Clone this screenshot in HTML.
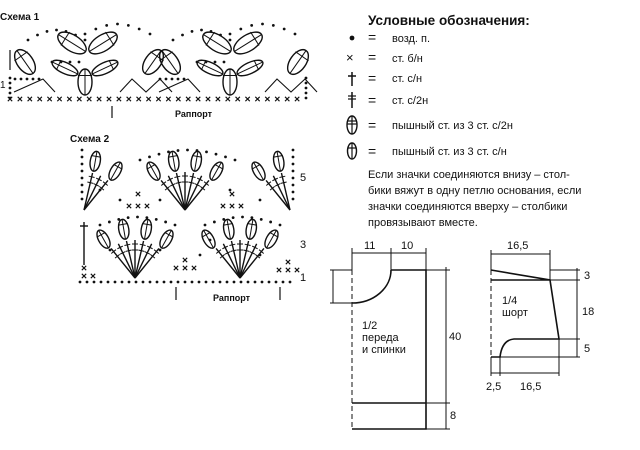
<!DOCTYPE html><html><head><meta charset="utf-8"><style>
body{margin:0;background:#fff;width:640px;height:450px;overflow:hidden}
svg{display:block}
text{font-family:"Liberation Sans",sans-serif;fill:#111}
</style></head><body>
<svg id="s" width="640" height="450" viewBox="0 0 640 450" stroke="#111" fill="none" stroke-width="1.2">
<text x="0" y="20" font-size="10" font-weight="bold" stroke="none">Схема 1</text>
<text x="70" y="142" font-size="10" font-weight="bold" stroke="none">Схема 2</text>
<text x="175" y="117" font-size="9" font-weight="bold" stroke="none">Раппорт</text>
<text x="213" y="301" font-size="9" font-weight="bold" stroke="none">Раппорт</text>
<line x1="112" y1="106" x2="112" y2="118"/><line x1="176" y1="287" x2="176" y2="300"/><line x1="280" y1="287" x2="280" y2="300"/>
<text x="300" y="181" font-size="11" stroke="none">5</text>
<text x="300" y="248" font-size="11" stroke="none">3</text>
<text x="300" y="281" font-size="11" stroke="none">1</text>
<text x="0" y="88" font-size="10" stroke="none">1</text>
<line x1="10" y1="50" x2="10" y2="70"/>
<!-- legend -->
<text x="368" y="25" font-size="13.5" font-weight="bold" stroke="none">Условные обозначения:</text>
<g font-size="11" stroke="none">
<circle cx="352" cy="38" r="2.4" fill="#111"/><text x="368" y="42" font-size="14">=</text><text x="392" y="42">возд. п.</text>
<text x="346" y="62" font-size="13">×</text><text x="368" y="62" font-size="14">=</text><text x="392" y="62">ст. б/н</text>
<text x="368" y="83" font-size="14">=</text><text x="392" y="82">ст. с/н</text>
<text x="368" y="105" font-size="14">=</text><text x="392" y="104">ст. с/2н</text>
<text x="368" y="130" font-size="14">=</text><text x="392" y="129">пышный ст. из 3 ст. с/2н</text>
<text x="368" y="156" font-size="14">=</text><text x="392" y="155">пышный ст. из 3 ст. с/н</text>
<text x="368" y="178">Если значки соединяются внизу – стол-</text>
<text x="368" y="194">бики вяжут в одну петлю основания, если</text>
<text x="368" y="210">значки соединяются вверху – столбики</text>
<text x="368" y="226">провязывают вместе.</text>
</g>
<line x1="352" y1="72" x2="352" y2="86" stroke-width="1.5"/><line x1="348" y1="76" x2="356" y2="76" stroke-width="1.5"/>
<line x1="352" y1="92" x2="352" y2="108" stroke-width="1.5"/><line x1="348" y1="96" x2="356" y2="96"/><line x1="348" y1="99" x2="356" y2="99"/>
<ellipse cx="352" cy="125" rx="5" ry="9" stroke-width="1.4"/><line x1="352" y1="116" x2="352" y2="134"/><line x1="347" y1="121" x2="357" y2="121"/><line x1="347" y1="124" x2="357" y2="124"/>
<ellipse cx="352" cy="151" rx="4.5" ry="8" stroke-width="1.4"/><line x1="352" y1="143" x2="352" y2="159"/><line x1="348" y1="148" x2="356" y2="148"/>
<!-- pattern 1/2 -->
<g stroke-width="1">
<line x1="352" y1="270" x2="352" y2="429" stroke-dasharray="5,3"/>
<path d="M391 270 H426 V429 H352 M352 403 H426 M352 303 A39 33 0 0 0 391 270" stroke-width="1.6"/>
<line x1="352" y1="253" x2="426" y2="253"/><line x1="352" y1="248" x2="352" y2="270"/><line x1="391" y1="248" x2="391" y2="270"/><line x1="426" y1="248" x2="426" y2="270"/>
<line x1="333" y1="270" x2="333" y2="303"/><line x1="330" y1="270" x2="352" y2="270"/><line x1="330" y1="303" x2="352" y2="303"/>
<line x1="446" y1="267" x2="446" y2="429"/><line x1="426" y1="270" x2="450" y2="270"/><line x1="426" y1="403" x2="450" y2="403"/><line x1="426" y1="429" x2="450" y2="429"/>
<line x1="491" y1="270" x2="491" y2="357" stroke-dasharray="5,3"/>
<path d="M491 270 L550 280 L559 339 H514 Q502 340 500 357 H491 M491 280 H550" stroke-width="1.6"/>
<line x1="491" y1="254" x2="550" y2="254"/><line x1="491" y1="250" x2="491" y2="270"/><line x1="550" y1="250" x2="550" y2="280"/>
<line x1="577" y1="268" x2="577" y2="357"/><line x1="550" y1="270" x2="580" y2="270"/><line x1="550" y1="280" x2="580" y2="280"/><line x1="559" y1="339" x2="580" y2="339"/><line x1="491" y1="357" x2="580" y2="357"/>
<line x1="491" y1="373" x2="559" y2="373"/><line x1="491" y1="357" x2="491" y2="376"/><line x1="500" y1="357" x2="500" y2="376"/><line x1="559" y1="339" x2="559" y2="376"/>
</g>
<g font-size="11" stroke="none">
<text x="364" y="249">11</text><text x="401" y="249">10</text>
<text x="449" y="340">40</text><text x="450" y="419">8</text>
<text x="362" y="329">1/2</text><text x="362" y="341">переда</text><text x="362" y="353">и  спинки</text>
<text x="507" y="249">16,5</text>
<text x="584" y="279">3</text><text x="582" y="315">18</text><text x="584" y="352">5</text>
<text x="486" y="390">2,5</text><text x="520" y="390">16,5</text>
<text x="502" y="304">1/4</text><text x="502" y="316">шорт</text>
</g>
<g id="c" stroke-width="1.4"></g>
</svg>
<script>
var g=document.getElementById('c'),NS='http://www.w3.org/2000/svg';
function el(t,a){var e=document.createElementNS(NS,t);for(var k in a)e.setAttribute(k,a[k]);g.appendChild(e);return e}
function dot(x,y){el('circle',{cx:x,cy:y,r:1.4,fill:'#111',stroke:'none'})}
function cross(x,y){el('path',{d:'M'+(x-2.2)+' '+(y-2.2)+'l4.4 4.4m0-4.4l-4.4 4.4','stroke-width':1.1})}
function ell(x,y,rx,ry,a){var tr='rotate('+a+' '+x+' '+y+')';el('ellipse',{cx:x,cy:y,rx:rx,ry:ry,transform:tr});el('line',{x1:x,y1:y-ry,x2:x,y2:y+ry,transform:tr,'stroke-width':1});el('line',{x1:x-rx,y1:y-ry*0.5,x2:x+rx,y2:y-ry*0.5,transform:tr,'stroke-width':1})}
function arc(x0,x1,y,h,n){for(var i=0;i<=n;i++){var t=i/n;dot(x0+(x1-x0)*t,y-h*Math.sin(Math.PI*t))}}
// scheme 1
for(var x=10;x<=306;x+=9.9)cross(x,99);
[[0,0],[145,0]].forEach(function(o){var d=o[0];
arc(28+d,85+d,40,10,6);arc(85+d,150+d,34,10,6);
ell(72+d,43,8,16,-58);ell(103+d,43,8,16,58);
ell(85+d,82,7,13,0);ell(65+d,68,5.5,14,-65);ell(105+d,68,5.5,14,65);
ell(25+d,62,8,14,-35);ell(153+d,62,8,14,35);
el('path',{d:'M'+(14+d)+' 92 L'+(43+d)+' 79 L'+(55+d)+' 92','stroke-width':1.1});
el('path',{d:'M'+(120+d)+' 92 L'+(132+d)+' 79 L'+(146+d)+' 92 L'+(160+d)+' 79 L'+(172+d)+' 92','stroke-width':1.1});
for(var i=0;i<5;i++)dot(15+d+i*6,79);for(var i=0;i<4;i++)dot(52+d+i*9,62);
});
for(var y=78;y<=98;y+=5){dot(10,y);dot(306,y)}
// scheme 2
function fan(cx,by,half){var n=7,L=38;for(var i=0;i<n;i++){if(half==='l'&&i<4)continue;if(half==='r'&&i>2)continue;var deg=-39+i*13,a=deg*Math.PI/180,ex=cx+Math.sin(a)*L,ey=by-Math.cos(a)*L;el('line',{x1:cx,y1:by,x2:ex,y2:ey});
var tr='rotate('+deg+' '+ex+' '+ey+')';el('line',{x1:ex-3,y1:ey+4,x2:ex+3,y2:ey+4,transform:tr,'stroke-width':1});el('line',{x1:ex-3,y1:ey+10,x2:ex+3,y2:ey+10,transform:tr,'stroke-width':1});
if(i%2===0){var mx=cx+Math.sin(a)*(L+12),my=by-Math.cos(a)*(L+12);ell(mx,my,5,10,deg*0.75)}}}
fan(185,210);fan(135,278);fan(240,278);fan(84,210,'l');fan(290,210,'r');
for(var x=80;x<=296;x+=7)dot(x,282);
arc(140,235,160,10,10);arc(100,175,225,8,8);arc(205,280,225,8,8);
[[138,206],[232,206]].forEach(function(p){cross(p[0],p[1]-12);cross(p[0]-9,p[1]);cross(p[0],p[1]);cross(p[0]+9,p[1])});
[[185,268],[288,270]].forEach(function(p){cross(p[0],p[1]-8);cross(p[0]-9,p[1]);cross(p[0],p[1]);cross(p[0]+9,p[1])});
cross(84,268);cross(84,276);cross(93,276);
for(var y=150;y<=205;y+=7){dot(82,y);dot(293,y)}
[[100,190],[160,200],[120,200],[230,190],[260,200],[110,250],[160,250],[200,255],[260,255],[210,240]].forEach(function(p){dot(p[0],p[1])});
el('line',{x1:84,y1:222,x2:84,y2:265});el('line',{x1:80,y1:226,x2:88,y2:226});
</script>
</body></html>
